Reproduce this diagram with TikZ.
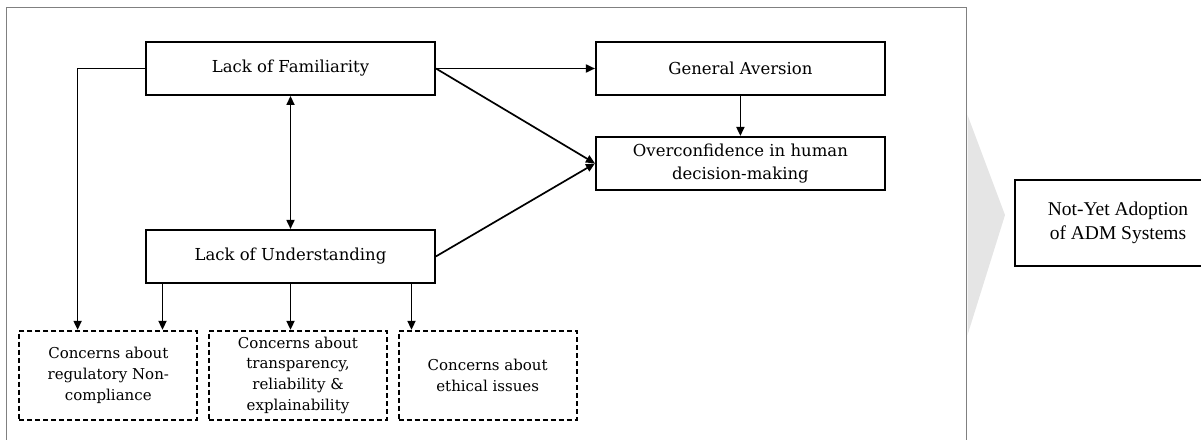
\documentclass[tikz,border=0pt]{standalone}
\usepackage{fontspec}
\setmainfont{DejaVu Serif}
\newfontfamily\timesfont{Liberation Serif}
\usetikzlibrary{positioning, arrows.meta}

\begin{document}
\begin{tikzpicture}[x=1pt, y=-1pt, node distance=10pt and 10pt, >={Triangle[length=9pt,width=8pt]}]

\tikzset{
  block/.style={
    rectangle, draw, line width=1.9pt, align=center,
    minimum height=53pt, minimum width=289pt,
    inner sep=2pt, font=\fontsize{16.5}{23.3}\selectfont
  },
  cblock/.style={
    rectangle, draw, line width=1.7pt, dash pattern=on 5pt off 3pt,
    align=center, minimum height=89pt, minimum width=178pt,
    inner sep=2pt, font=\fontsize{15}{20.7}\selectfont
  },
  outblock/.style={
    rectangle, draw, line width=1.4pt, align=center,
    minimum height=86pt, minimum width=206pt,
    inner sep=2pt, font=\timesfont\fontsize{19.5}{23.5}\selectfont
  },
  arrow/.style={->, line width=1.7pt},
  dblarrow/.style={<->, line width=1.7pt},
  frameline/.style={draw=black!50, line width=1.2pt}
}

\useasboundingbox (0,0) rectangle (1201,439);

% ==========================
% Frame + chevron
% ==========================
\draw[frameline] (6.5,460) -- (6.5,7.5) -- (966.5,7.5) -- (966.5,460);
\fill[black!10] (967.5,115) -- (1005,215) -- (967.5,335) -- cycle;

% ==========================
% Top part: familiarity and aversion
% ==========================
\node[block] (lf) at (290.5,68.5) {Lack of Familiarity};
\node[block, right=159pt of lf] (ga) {General Aversion};
\node[block, below=40pt of ga] (oc) {Overconfidence in human\\decision-making};
\node[block, below=133pt of lf] (lu) {Lack of Understanding};

\draw[arrow] (lf.east) -- (ga.west);
\draw[arrow] (lf.east) -- (oc.west);
\draw[arrow] (lu.east) -- (oc.west);
\draw[arrow] (ga) -- (oc);
\draw[dblarrow] (lf) -- (lu);

% ==========================
% Bottom row: concerns
% ==========================
\node[cblock, below=46pt of lu, xshift=7.5pt] (cTrans) {Concerns about\\transparency,\\reliability \&\\explainability};
\node[cblock, left=10pt of cTrans] (cReg) {Concerns about\\regulatory Non-\\compliance};
\node[cblock, right=10pt of cTrans] (cEth) {Concerns about\\ethical issues};

\draw[arrow] (lf.west) -| ([xshift=-30.7pt]cReg.north);
\draw[arrow] ([xshift=-128pt]lu.south) -- ([xshift=-128pt]lu.south |- cReg.north);
\draw[arrow] (lu.south) -- (lu.south |- cTrans.north);
\draw[arrow] ([xshift=121pt]lu.south) -- ([xshift=121pt]lu.south |- cEth.north);

% Outcome
\node[outblock] (ny) at (1118,223) {Not-Yet Adoption\\of ADM Systems};

\end{tikzpicture}
\end{document}
